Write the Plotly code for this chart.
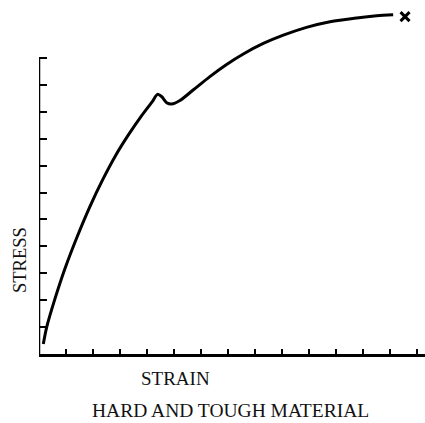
import plotly.graph_objects as go

# Stress-strain curve of a hard and tough material (arbitrary units)
strain = [0.16, 0.285, 0.59, 0.96, 1.41, 1.89, 2.37, 2.85, 3.33, 3.81, 4.19,
          4.39, 4.54, 4.73, 4.91, 5.22, 5.71, 6.33, 6.95, 7.57, 8.31, 9.05,
          9.91, 10.78, 11.77, 12.51, 13.12]
stress = [0.37, 1.00, 2.05, 3.17, 4.35, 5.49, 6.50, 7.40, 8.17, 8.87, 9.37,
          9.65, 9.57, 9.34, 9.29, 9.42, 9.81, 10.31, 10.76, 11.15, 11.54, 11.85,
          12.14, 12.35, 12.49, 12.57, 12.61]

# Fracture point
fracture_strain = [13.56]
fracture_stress = [12.54]

strain_ticks = list(range(1, 15))
stress_ticks = list(range(1, 12))
stress_axis_top = 11

x_label = "STRAIN"
y_label = "STRESS"
caption = "HARD AND TOUGH MATERIAL"

FONT = "Liberation Serif, Times New Roman, serif"

fig = go.Figure()

fig.add_trace(go.Scatter(
    x=strain, y=stress, mode="lines",
    line=dict(color="black", width=3, shape="spline", smoothing=0.8),
    hoverinfo="skip", showlegend=False,
))

fig.add_trace(go.Scatter(
    x=fracture_strain, y=fracture_stress, mode="markers",
    marker=dict(symbol="x-thin", size=9, color="black",
                line=dict(color="black", width=3)),
    hoverinfo="skip", showlegend=False,
))

# Vertical axis line stops at the last stress tick
fig.add_shape(type="line", xref="x", yref="y",
              x0=0, y0=0, x1=0, y1=stress_axis_top,
              line=dict(color="black", width=2.5))

fig.update_xaxes(
    range=[0, 14.3], showgrid=False, zeroline=False,
    showline=True, linecolor="black", linewidth=2.5,
    ticks="inside", ticklen=5, tickwidth=2, tickcolor="black",
    tickvals=strain_ticks, showticklabels=False,
)
fig.update_yaxes(
    range=[0, 12.97], showgrid=False, zeroline=False, showline=False,
    ticks="inside", ticklen=8, tickwidth=2, tickcolor="black",
    tickvals=stress_ticks, showticklabels=False,
)

fig.add_annotation(text=x_label, xref="paper", yref="paper",
                   x=(175 - 39) / 386, y=-(378 - 354) / 349,
                   xanchor="center", yanchor="middle", showarrow=False,
                   font=dict(family=FONT, size=19, color="#111"))
fig.add_annotation(text=caption, xref="paper", yref="paper",
                   x=(230 - 39) / 386, y=-(411 - 354) / 349,
                   xanchor="center", yanchor="middle", showarrow=False,
                   font=dict(family=FONT, size=19.5, color="#111"))
fig.add_annotation(text=y_label, xref="paper", yref="paper",
                   x=-(39 - 20) / 386, y=(354 - 260) / 349,
                   xanchor="center", yanchor="middle", showarrow=False,
                   textangle=-90,
                   font=dict(family=FONT, size=18.5, color="#111"))

fig.update_layout(
    width=425, height=423,
    margin=dict(l=39, r=0, t=5, b=69),
    paper_bgcolor="white", plot_bgcolor="white",
)

fig.write_html("out.html")
